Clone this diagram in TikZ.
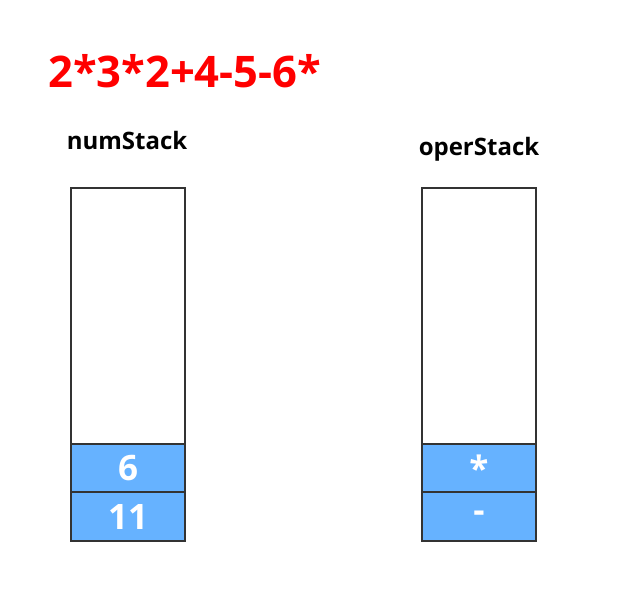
\documentclass[tikz,border=0pt]{standalone}
\usepackage{fontspec}
\setmainfont{Open Sans}
\definecolor{cellblue}{HTML}{66B2FF}
\definecolor{edge}{HTML}{333333}
\begin{document}
\begin{tikzpicture}[x=1pt,y=-1pt,
  stackbox/.style={draw=edge,line width=2pt},
  cellbox/.style={draw=edge,line width=2pt,fill=cellblue,minimum width=114pt,minimum height=49pt,inner sep=0pt,
     font=\bfseries\fontsize{35}{35}\selectfont,text=white},
  label/.style={font=\bfseries\fontsize{24}{24}\selectfont,text=black,inner sep=0pt}]
\useasboundingbox (0,0) rectangle (632,603);
\node[font=\bfseries\fontsize{43.5}{43.5}\selectfont,text=red,anchor=base west,inner sep=0pt] (title) at (48,87) {2*3*2+4-5-6*};
\node[label] (numlbl) at (127,140) {numStack};
\node[label] (operlbl) at (479,149) {operStack};
\draw[stackbox] (71,188) rectangle (185,541);
\draw[stackbox] (422,188) rectangle (536,541);
\node[cellbox] (n1) at (128,468.5) {6};
\node[cellbox] (n2) at (128,516.5) {11};
\node[cellbox] (o1) at (479,468.5) {*};
\node[cellbox] (o2) at (479,516.5) {-};
\end{tikzpicture}
\end{document}
